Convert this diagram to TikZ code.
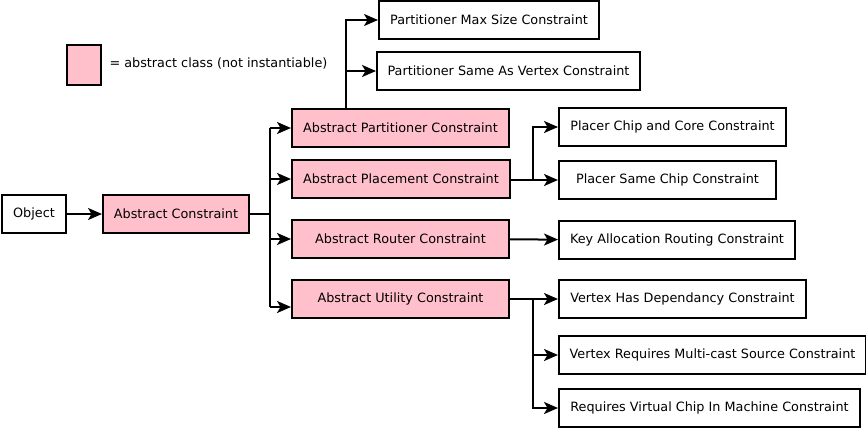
\documentclass[tikz,border=0pt]{standalone}
\usepackage{fontspec}
\setmainfont{DejaVu Sans}
\usetikzlibrary{arrows.meta, positioning}
\definecolor{absfill}{RGB}{255,192,203}

\begin{document}
\begin{tikzpicture}[
    x=1pt, y=-1pt,
    >={Stealth[length=14pt, width=12pt, inset=3.5pt]},
    every node/.style={font=\fontsize{12.8}{15}\selectfont},
    cls/.style={draw, line width=2pt, minimum height=38pt, inner sep=0pt, anchor=west},
    abst/.style={cls, fill=absfill},
    wire/.style={line width=2pt},
    link/.style={->, line width=2pt},
]
\useasboundingbox (0,0) rectangle (866,428);
% the key
\node[abst, minimum width=34pt, minimum height=39pt] (key) at (66,65) {};
\node[anchor=west] (keytxt) at (106,63) {= abstract class (not instantiable)};
% root and the abstract classes
\node[cls, minimum width=64pt] (obj) at (1,214) {Object};
\node[abst, minimum width=146pt] (abs) at (102,214) {Abstract Constraint};
\node[abst, minimum width=217pt] (apart) at (291,128) {Abstract Partitioner Constraint};
\node[abst, minimum width=218pt] (apl) at (291,179) {Abstract Placement Constraint};
\node[abst, minimum width=217pt] (art) at (291,239) {Abstract Router Constraint};
\node[abst, minimum width=217pt] (aut) at (291,299) {Abstract Utility Constraint};
% the concrete classes
\node[cls, minimum width=220pt] (pmax) at (378,20) {Partitioner Max Size Constraint};
\node[cls, minimum width=263pt] (psav) at (376,71) {Partitioner Same As Vertex Constraint};
\node[cls, minimum width=227pt] (pcc) at (558,127) {Placer Chip and Core Constraint};
\node[cls, minimum width=217pt] (pscc) at (558,180) {Placer Same Chip Constraint};
\node[cls, minimum width=236pt] (kar) at (558,240) {Key Allocation Routing Constraint};
\node[cls, minimum width=247pt] (vhd) at (558,299) {Vertex Has Dependancy Constraint};
\node[cls, minimum width=307pt] (vrm) at (558,355) {Vertex Requires Multi-cast Source Constraint};
\node[cls, minimum width=301pt] (rvc) at (558,408) {Requires Virtual Chip In Machine Constraint};
% object to abstract constraint
\draw[link] (obj) -- (abs);
% trunk to the four abstract classes
\coordinate (jA) at (270,214);
\draw[wire] (abs) -- (jA);
\draw[wire] (jA|-apart) -- (jA|-0,307);
\draw[link] (jA|-apart) -- (apart);
\draw[link] (jA|-apl) -- (apl);
\draw[link] (jA|-art) -- (art);
\draw[link] (jA|-0,307) -- (aut.west|-0,307);
% partitioner branch
\coordinate (jP) at (346,20);
\draw[link] (apart.north-|jP) |- (pmax);
\draw[link] (jP|-psav) -- (psav);
% placement branch
\coordinate (jL) at (533,180);
\draw[link] (apl.east|-jL) -- (pscc);
\draw[link] (jL) |- (pcc);
% router branch
\draw[link] (art) -- (kar);
% utility branch
\coordinate (jU) at (533,299);
\draw[link] (aut) -- (vhd);
\draw[link] (jU) |- (vrm);
\draw[link] (jU) |- (rvc);
\end{tikzpicture}
\end{document}
